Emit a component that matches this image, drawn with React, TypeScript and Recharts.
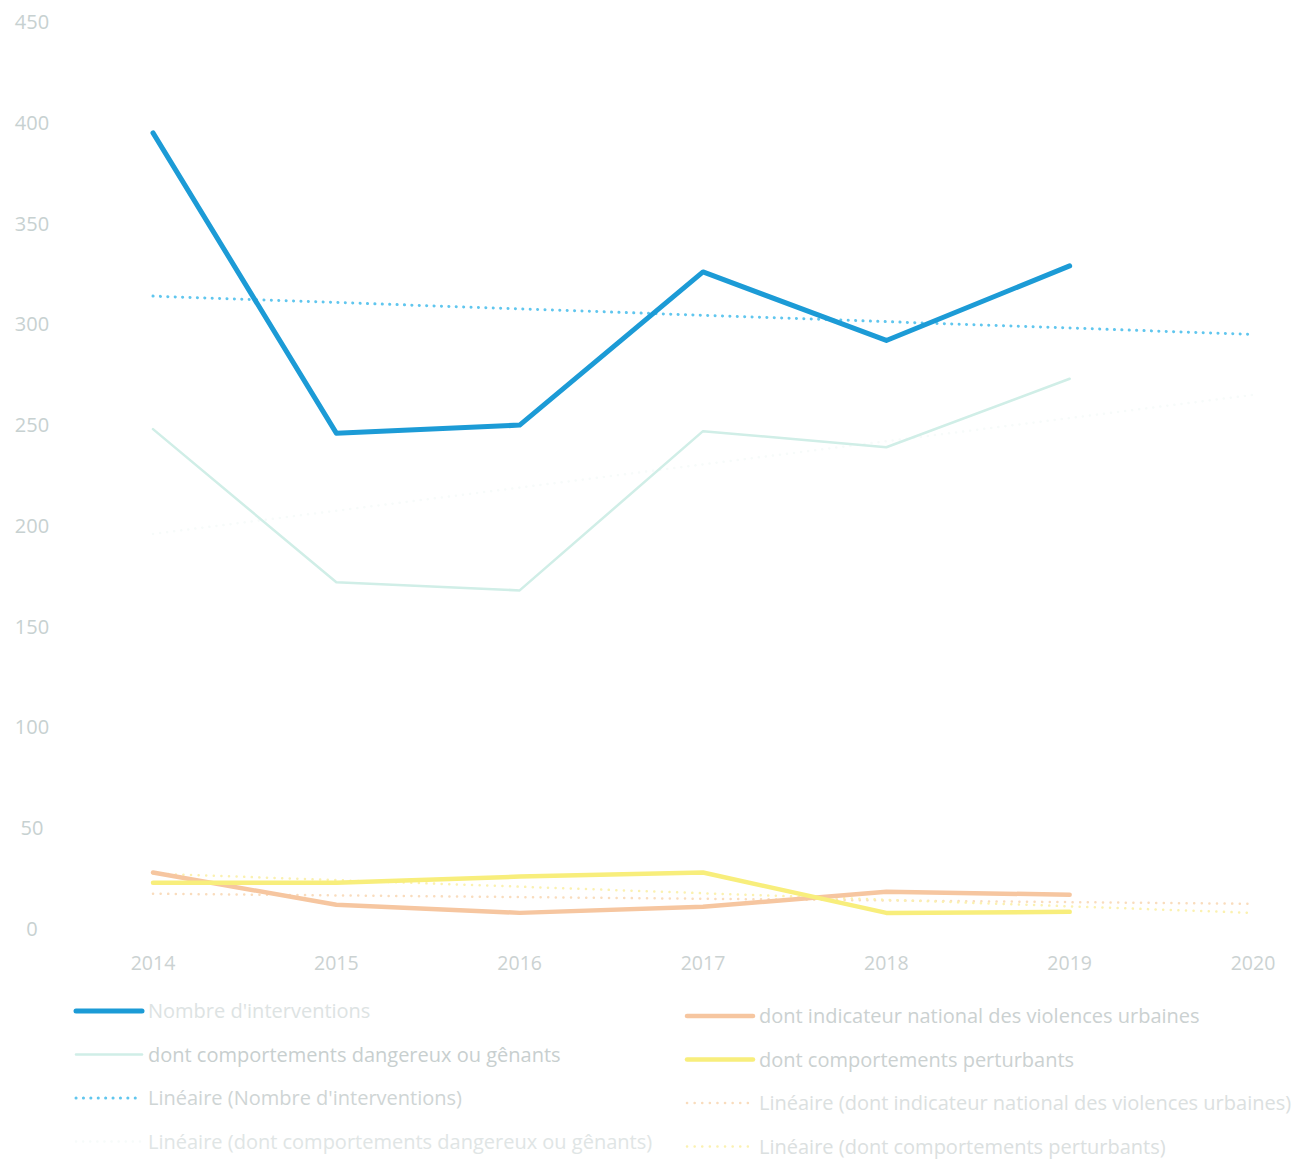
import React from "react";
import { LineChart, Line, XAxis, YAxis } from "recharts";

const years = [2014, 2015, 2016, 2017, 2018, 2019, 2020];
const yTicks = [0, 50, 100, 150, 200, 250, 300, 350, 400, 450];

const nombreInterventions = [395, 246, 250, 326, 292, 329, null];
const comportementsDangereux = [248, 172, 168, 247, 239, 273, null];
const violencesUrbaines = [28, 12, 8, 11, 18.5, 17, null];
const comportementsPerturbants = [23, 23, 26, 28, 8, 8.5, null];

// trend lines read at their two end points (2014 and 2020)
const trendInterventions = [314, null, null, null, null, null, 295];
const trendDangereux = [196, null, null, null, null, null, 265];
const trendViolences = [17.5, null, null, null, null, null, 12.5];
const trendPerturbants = [27.5, null, null, null, null, null, 8];

const labels = {
  a: "Nombre d'interventions",
  b: "dont comportements dangereux ou gênants",
  c: "Linéaire (Nombre d'interventions)",
  d: "Linéaire (dont comportements dangereux ou gênants)",
  e: "dont indicateur national des violences urbaines",
  f: "dont comportements perturbants",
  g: "Linéaire (dont indicateur national des violences urbaines)",
  h: "Linéaire (dont comportements perturbants)",
};

const data = years.map((year, i) => ({
  year,
  a: nombreInterventions[i],
  b: comportementsDangereux[i],
  c: trendInterventions[i],
  d: trendDangereux[i],
  e: violencesUrbaines[i],
  f: comportementsPerturbants[i],
  g: trendViolences[i],
  h: trendPerturbants[i],
}));

type S = { key: string; color: string; width: number; dash?: string; textColor: string };

const series: S[] = [
  { key: "d", color: "#f7fbfa", width: 2.5, dash: "0.1 7", textColor: "#e0e5e5" },
  { key: "b", color: "#d0eee7", width: 2.5, textColor: "#c8cfcf" },
  { key: "g", color: "#f9dcbd", width: 2.5, dash: "0.1 7.5", textColor: "#dbe0e0" },
  { key: "h", color: "#fbf1b0", width: 2.5, dash: "0.1 7.5", textColor: "#dbe0e0" },
  { key: "e", color: "#f6c6a0", width: 4.5, textColor: "#cbd1d1" },
  { key: "f", color: "#f8ee7c", width: 4.5, textColor: "#cbd1d1" },
  { key: "c", color: "#60c6ee", width: 3, dash: "0.1 7.3", textColor: "#cfd5d5" },
  { key: "a", color: "#1c9bd6", width: 5, textColor: "#dde3e3" },
];

const byKey = (k: string) => series.find((s) => s.key === k)!;

const font = "'Open Sans', sans-serif";

const YTick = (props: any) => {
  const { x, y, payload } = props;
  return (
    <text x={x - 113} y={y} dy="0.35em" textAnchor="middle" fontFamily={font} fontSize={20} fill="#c7d1d1">
      {payload.value}
    </text>
  );
};

const XTick = (props: any) => {
  const { x, y, payload } = props;
  return (
    <text x={x} y={y + 33} textAnchor="middle" fontFamily={font} fontSize={19.5} fill="#cbd2d2">
      {payload.value}
    </text>
  );
};

const leftCol = ["a", "b", "c", "d"];
const rightCol = ["e", "f", "g", "h"];

const LegendItem = ({ k, x, y }: { k: string; x: number; y: number }) => {
  const s = byKey(k);
  return (
    <g>
      <line
        x1={x}
        x2={x + 66}
        y1={y}
        y2={y}
        stroke={s.color}
        strokeWidth={s.width}
        strokeDasharray={s.dash}
        strokeLinecap="round"
      />
      <text x={x + 72} y={y} dy="0.35em" fontFamily={font} fontSize={20} fill={s.textColor}>
        {labels[k as keyof typeof labels]}
      </text>
    </g>
  );
};

export default function App() {
  return (
    <div style={{ position: "absolute", left: 0, top: 0, width: 1296, height: 1159, background: "#fff" }}>
      <LineChart width={1296} height={990} data={data} margin={{ top: 22, right: 43, bottom: 21, left: 0 }}>
        <XAxis
          dataKey="year"
          type="number"
          domain={[2014, 2020]}
          ticks={years}
          axisLine={false}
          tickLine={false}
          height={40}
          tick={<XTick />}
          interval={0}
        />
        <YAxis
          domain={[0, 450]}
          ticks={yTicks}
          axisLine={false}
          tickLine={false}
          width={153}
          tick={<YTick />}
          interval={0}
        />
        {series.map((s) => (
          <Line
            key={s.key}
            dataKey={s.key}
            name={labels[s.key as keyof typeof labels]}
            type="linear"
            stroke={s.color}
            strokeWidth={s.width}
            strokeDasharray={s.dash}
            strokeLinecap="round"
            strokeLinejoin="round"
            dot={false}
            activeDot={false}
            connectNulls
            isAnimationActive={false}
          />
        ))}
      </LineChart>
      <svg width={1296} height={1159} style={{ position: "absolute", left: 0, top: 0, pointerEvents: "none" }}>
        {leftCol.map((k, i) => (
          <LegendItem key={k} k={k} x={76} y={1011 + i * 43.5} />
        ))}
        {rightCol.map((k, i) => (
          <LegendItem key={k} k={k} x={687} y={1016 + i * 43.5} />
        ))}
      </svg>
    </div>
  );
}
